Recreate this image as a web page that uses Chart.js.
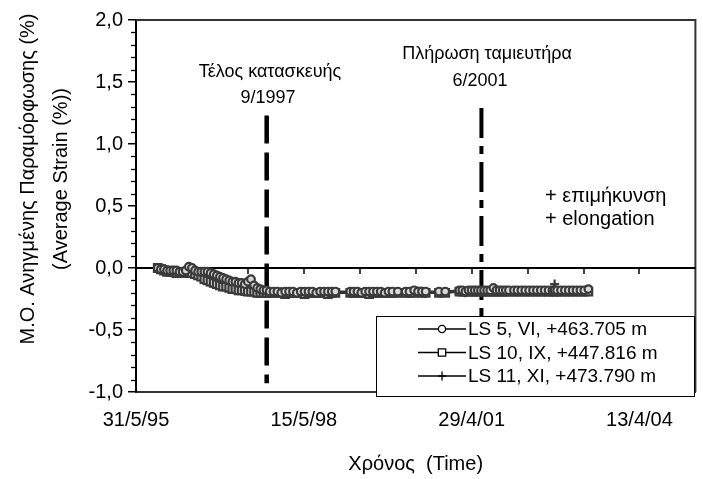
<!DOCTYPE html>
<html><head><meta charset="utf-8">
<script src="https://cdn.jsdelivr.net/npm/chart.js@4.4.0/dist/chart.umd.min.js"></script>
<style>html,body{margin:0;padding:0;background:#fff;}canvas{display:block;}</style>
</head><body>
<canvas id="c" width="703" height="479"></canvas>
<script>
const FONT = "'Liberation Sans', Arial, sans-serif";

// measurement days counted from 31/5/95
const dates = [
 140,160,180,200,220,240,260,280,300,320,340,360,380,400,420,440,460,480,500,520,540,560,580,600,620,640,660,680,700,720,740,760,780,800,820,840,860,
 885,910,935,960,985,1010,1035,1060,1085,1110,1135,1160,1185,1210,1235,1260,1283,
 1379,1400,1425,1450,1475,1500,1525,1550,1575,1600,1625,1650,1685,
 1735,1760,1790,1815,1840,1864,
 1950,1990,
 2081,2100,2120,2140,2160,2180,2200,2220,2240,2260,2280,2300,2320,2340,2360,2380,2400,
 2432,2455,2480,2505,2530,2555,2580,2605,2630,2655,2680,2694,2710,2735,2760,2785,2810,2835,2860,2885,2911
];
const ls5 = [
 0.00,-0.01,-0.01,-0.02,-0.02,-0.02,-0.02,-0.03,-0.03,-0.02,0.01,0.00,-0.02,-0.03,-0.03,-0.03,-0.03,-0.04,-0.05,-0.06,-0.07,-0.08,-0.09,-0.10,-0.11,-0.11,-0.12,-0.12,-0.13,-0.11,-0.09,-0.14,-0.16,-0.17,-0.18,-0.18,-0.19,
 -0.19,-0.19,-0.20,-0.19,-0.19,-0.19,-0.20,-0.19,-0.19,-0.19,-0.19,-0.20,-0.19,-0.19,-0.19,-0.19,-0.19,
 -0.19,-0.19,-0.19,-0.20,-0.19,-0.19,-0.19,-0.19,-0.19,-0.20,-0.19,-0.19,-0.19,
 -0.19,-0.19,-0.18,-0.19,-0.19,-0.19,
 -0.19,-0.19,
 -0.18,-0.18,-0.19,-0.18,-0.18,-0.18,-0.18,-0.18,-0.18,-0.18,-0.18,-0.16,-0.18,-0.18,-0.18,-0.18,-0.18,
 -0.18,-0.18,-0.18,-0.18,-0.18,-0.18,-0.18,-0.18,-0.18,-0.18,-0.18,-0.18,-0.18,-0.18,-0.18,-0.18,-0.18,-0.18,-0.18,-0.18,-0.17
];
const ls10 = [
 0.00,-0.01,-0.02,-0.03,-0.03,-0.03,-0.04,-0.04,-0.04,-0.04,-0.03,-0.04,-0.05,-0.06,-0.07,-0.09,-0.10,-0.11,-0.12,-0.13,-0.14,-0.15,-0.15,-0.16,-0.17,-0.17,-0.18,-0.18,-0.18,-0.19,-0.19,-0.19,-0.20,-0.20,-0.20,-0.20,-0.20,
 -0.20,-0.20,-0.20,-0.21,-0.20,-0.20,-0.20,-0.20,-0.21,-0.20,-0.20,-0.20,-0.20,-0.20,-0.21,-0.20,-0.20,
 -0.20,-0.20,-0.20,-0.20,-0.20,-0.21,-0.20,-0.20,-0.20,-0.20,-0.20,-0.20,-0.20,
 -0.20,-0.20,-0.20,-0.19,-0.20,-0.20,
 -0.20,-0.20,
 -0.19,-0.19,-0.19,-0.19,-0.19,-0.19,-0.19,-0.19,-0.19,-0.19,-0.19,-0.19,-0.19,-0.19,-0.19,-0.19,-0.19,
 -0.19,-0.19,-0.19,-0.19,-0.19,-0.19,-0.19,-0.19,-0.19,-0.19,-0.19,-0.19,-0.19,-0.19,-0.19,-0.19,-0.19,-0.19,-0.19,-0.19,-0.19
];
const ls11 = [
 0.00,-0.01,-0.02,-0.02,-0.03,-0.03,-0.03,-0.04,-0.04,-0.04,-0.04,-0.05,-0.05,-0.07,-0.08,-0.09,-0.11,-0.12,-0.13,-0.14,-0.15,-0.15,-0.16,-0.17,-0.17,-0.18,-0.18,-0.19,-0.19,-0.19,-0.19,-0.20,-0.20,-0.20,-0.20,-0.20,-0.20,
 -0.20,-0.20,-0.19,-0.20,-0.20,-0.20,-0.20,-0.20,-0.20,-0.19,-0.20,-0.20,-0.20,-0.20,-0.20,-0.20,-0.20,
 -0.20,-0.20,-0.20,-0.20,-0.20,-0.20,-0.20,-0.20,-0.19,-0.20,-0.20,-0.20,-0.20,
 -0.20,-0.20,-0.20,-0.20,-0.19,-0.20,
 -0.20,-0.19,
 -0.19,-0.19,-0.20,-0.19,-0.19,-0.19,-0.19,-0.19,-0.19,-0.19,-0.19,-0.19,-0.19,-0.19,-0.19,-0.19,-0.19,
 -0.19,-0.19,-0.19,-0.19,-0.19,-0.19,-0.19,-0.19,-0.19,-0.19,-0.19,-0.13,-0.19,-0.19,-0.19,-0.19,-0.19,-0.19,-0.19,-0.19,-0.19
];
const seriesNames = ['LS 5, VI, +463.705 m','LS 10, IX, +447.816 m','LS 11, XI, +473.790 m'];
const xTickValues = [0,1080,2160,3240];
const xTickLabels = ['31/5/95','15/5/98','29/4/01','13/4/04'];
const xMinorValues = [360,720,1080,1440,1800,2160,2520,2880,3240];
const yTickValues = [-1,-0.5,0,0.5,1,1.5,2];
const eventDays = [841,2223];
const eventTop = [1.23,1.29];
const eventBottom = [-0.93,-0.95];
const eventLabels = [['Τέλος κατασκευής','9/1997'],['Πλήρωση ταμιευτήρα','6/2001']];
const noteLines = ['+ επιμήκυνση','+ elongation'];
const xTitle = 'Χρόνος  (Time)';
const yTitle = ['Μ.Ο. Ανηγμένης Παραμόρφωσης (%)','(Average Strain (%))'];

const styles = [
 {ps:'circle', r:3.8},
 {ps:'rect', r:5.4},
 {ps:'cross', r:4.5}
];
const series = [ls5, ls10, ls11];
const datasets = series.map((vals,k)=>({
  label: seriesNames[k],
  data: dates.map((d,i)=>({x:d, y:vals[i]})),
  borderColor:'#333', borderWidth:2.2,
  pointStyle: styles[k].ps, pointRadius: styles[k].r,
  pointBorderColor:'#3a3a3a', pointBackgroundColor:'#d8d8d8', pointBorderWidth:2.2,
  showLine:true, tension:0, fill:false
}));

function drawMarker(ctx, ps, x, y){
  ctx.save();
  ctx.strokeStyle='#000'; ctx.fillStyle='#fff'; ctx.lineWidth=1.3;
  ctx.beginPath();
  if(ps==='circle'){ ctx.arc(x,y,3.6,0,Math.PI*2); ctx.fill(); ctx.stroke(); }
  else if(ps==='rect'){ ctx.rect(x-3.7,y-3.7,7.4,7.4); ctx.fill(); ctx.stroke(); }
  else { ctx.moveTo(x-4,y); ctx.lineTo(x+4,y); ctx.moveTo(x,y-4.5); ctx.lineTo(x,y+4.5); ctx.stroke(); }
  ctx.restore();
}

const decor = {
  id:'decor',
  beforeDatasetsDraw(chart){
    const {ctx, chartArea:a, scales:{x,y}} = chart;
    ctx.save();
    ctx.strokeStyle='#333'; ctx.lineWidth=2;
    ctx.beginPath(); ctx.moveTo(a.left,a.top); ctx.lineTo(a.right,a.top); ctx.lineTo(a.right,a.bottom); ctx.stroke();
    ctx.strokeStyle='#000'; ctx.lineWidth=1.3;
    for(let i=-10;i<=20;i++){
      if(i%5===0) continue;
      const py=Math.round(y.getPixelForValue(i/10))+0.5;
      ctx.beginPath(); ctx.moveTo(a.left-5,py); ctx.lineTo(a.left,py); ctx.stroke();
    }
    const y0 = y.getPixelForValue(0);
    ctx.lineWidth=2; ctx.strokeStyle='#000';
    ctx.beginPath(); ctx.moveTo(a.left,y0); ctx.lineTo(a.right,y0); ctx.stroke();
    ctx.lineWidth=1.5;
    xMinorValues.forEach(v=>{
      const px=Math.round(x.getPixelForValue(v));
      ctx.beginPath(); ctx.moveTo(px,y0); ctx.lineTo(px,y0+6); ctx.stroke();
    });
    const dashes=[[28,9],[30,8,8,8]];
    const widths=[4.5,4];
    eventDays.forEach((d,i)=>{
      const px=x.getPixelForValue(d);
      ctx.lineWidth=widths[i]; ctx.setLineDash(dashes[i]); ctx.lineCap='butt';
      ctx.beginPath(); ctx.moveTo(px,y.getPixelForValue(eventTop[i])); ctx.lineTo(px,y.getPixelForValue(eventBottom[i])); ctx.stroke();
    });
    ctx.restore();
  },
  afterDraw(chart){
    const {ctx, chartArea:a} = chart;
    ctx.save();
    ctx.fillStyle='#000';
    ctx.font='18px '+FONT; ctx.textAlign='center'; ctx.textBaseline='alphabetic';
    ctx.fillText(eventLabels[0][0],270,77); ctx.fillText(eventLabels[0][1],268,103);
    ctx.fillText(eventLabels[1][0],487,59); ctx.fillText(eventLabels[1][1],480,86);
    ctx.font='20px '+FONT; ctx.textAlign='left';
    ctx.fillText(noteLines[0],545,202); ctx.fillText(noteLines[1],545,225);
    ctx.textAlign='center';
    ctx.fillText(xTitle,(a.left+a.right)/2,470);
    ctx.save(); ctx.translate(28,179); ctx.rotate(-Math.PI/2); ctx.textBaseline='middle';
    ctx.fillText(yTitle[0],0,0); ctx.restore();
    ctx.save(); ctx.translate(61,179); ctx.rotate(-Math.PI/2); ctx.textBaseline='middle';
    ctx.fillText(yTitle[1],0,0); ctx.restore();
    const lx=376, ly=316, lw=318, lh=80;
    ctx.fillStyle='#fff'; ctx.fillRect(lx,ly,lw,lh);
    ctx.strokeStyle='#000'; ctx.lineWidth=1; ctx.strokeRect(lx+0.5,ly+0.5,lw,lh);
    const rows=[329,352.5,376];
    ctx.font='19px '+FONT; ctx.textAlign='left'; ctx.textBaseline='middle';
    rows.forEach((ry,k)=>{
      ctx.strokeStyle='#000'; ctx.lineWidth=1.5;
      ctx.beginPath(); ctx.moveTo(418,ry); ctx.lineTo(466,ry); ctx.stroke();
      drawMarker(ctx, styles[k].ps, 442, ry);
      ctx.fillStyle='#000'; ctx.fillText(seriesNames[k],468,ry+1);
    });
    ctx.restore();
  }
};

new Chart(document.getElementById('c'), {
  type:'scatter',
  data:{datasets},
  plugins:[decor],
  options:{
    responsive:false, animation:false, devicePixelRatio:1,
    layout:{padding:{left:0,top:20,right:3,bottom:0}},
    plugins:{legend:{display:false}, tooltip:{enabled:false}},
    scales:{
      x:{type:'linear', min:0, max:3600,
        afterBuildTicks:s=>{ s.ticks = xTickValues.map(v=>({value:v})); },
        afterFit:s=>{ s.height = 87; },
        ticks:{autoSkip:false, maxRotation:0, padding:16, color:'#000', font:{family:FONT,size:20},
          callback:v=>{ const i=xTickValues.indexOf(v); return i>=0?xTickLabels[i]:''; }},
        grid:{display:false, drawTicks:false},
        border:{display:true, color:'#333', width:2}
      },
      y:{min:-1, max:2,
        afterBuildTicks:s=>{ s.ticks = yTickValues.map(v=>({value:v})); },
        afterFit:s=>{ s.width = 136; },
        ticks:{padding:5, color:'#000', font:{family:FONT,size:20},
          callback:v=>v.toFixed(1).replace('.',',')},
        grid:{drawOnChartArea:false, drawTicks:true, tickLength:8, color:'#000', lineWidth:1.5},
        border:{display:true, color:'#000', width:2}
      }
    }
  }
});
</script>
</body></html>
